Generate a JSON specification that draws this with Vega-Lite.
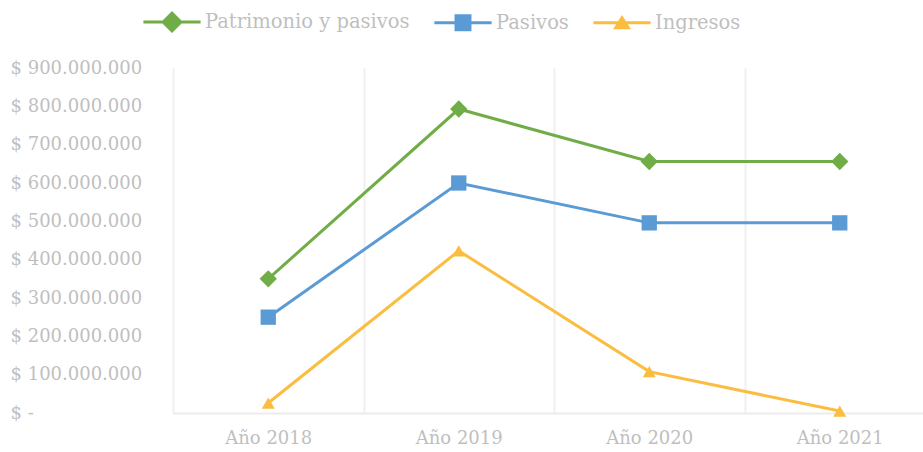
{
  "$schema": "https://vega.github.io/schema/vega-lite/v6.json",
  "width": 750,
  "height": 345,
  "autosize": "none",
  "padding": {"left": 173, "top": 68, "right": 0, "bottom": 39},
  "background": "white",
  "data": {
    "values": [
      {"serie": "Patrimonio y pasivos", "anio": "Año 2018", "valor": 350000000},
      {"serie": "Patrimonio y pasivos", "anio": "Año 2019", "valor": 793000000},
      {"serie": "Patrimonio y pasivos", "anio": "Año 2020", "valor": 656000000},
      {"serie": "Patrimonio y pasivos", "anio": "Año 2021", "valor": 656000000},
      {"serie": "Pasivos", "anio": "Año 2018", "valor": 250000000},
      {"serie": "Pasivos", "anio": "Año 2019", "valor": 600000000},
      {"serie": "Pasivos", "anio": "Año 2020", "valor": 496000000},
      {"serie": "Pasivos", "anio": "Año 2021", "valor": 496000000},
      {"serie": "Ingresos", "anio": "Año 2018", "valor": 26000000},
      {"serie": "Ingresos", "anio": "Año 2019", "valor": 423000000},
      {"serie": "Ingresos", "anio": "Año 2020", "valor": 108000000},
      {"serie": "Ingresos", "anio": "Año 2021", "valor": 5000000}
    ]
  },
  "config": {
    "font": "DejaVu Serif",
    "view": {"stroke": null},
    "axis": {
      "labelFont": "DejaVu Serif",
      "labelFontSize": 18,
      "labelColor": "#bfbfbf",
      "ticks": false,
      "title": null
    },
    "legend": {
      "labelFont": "DejaVu Serif",
      "labelFontSize": 19.5,
      "labelColor": "#bfbfbf",
      "labelLimit": 400
    }
  },
  "encoding": {
    "x": {
      "field": "anio",
      "type": "nominal",
      "sort": ["Año 2018", "Año 2019", "Año 2020", "Año 2021"],
      "scale": {"range": [0, 762], "paddingInner": 0, "paddingOuter": 0},
      "axis": {
        "labelAngle": 0,
        "tickBand": "extent",
        "grid": true,
        "gridColor": "#f0f0f0",
        "gridWidth": 2,
        "domainColor": "#ececec",
        "domainWidth": 2,
        "labelPadding": 16
      }
    },
    "y": {
      "field": "valor",
      "type": "quantitative",
      "scale": {"domain": [0, 900000000], "nice": false},
      "axis": {
        "values": [0, 100000000, 200000000, 300000000, 400000000, 500000000, 600000000, 700000000, 800000000, 900000000],
        "domain": false,
        "grid": false,
        "labelAlign": "left",
        "labelPadding": 163,
        "labelExpr": "datum.value == 0 ? '$ -' : '$ ' + replace(format(datum.value, ',.0f'), regexp(',', 'g'), '.')"
      }
    }
  },
  "layer": [
    {
      "mark": {"type": "line", "strokeWidth": 3},
      "encoding": {
        "color": {
          "field": "serie",
          "type": "nominal",
          "scale": {
            "domain": ["Patrimonio y pasivos", "Pasivos", "Ingresos"],
            "range": ["#70ad47", "#5b9bd5", "#fbbd40"]
          },
          "legend": null
        }
      }
    },
    {
      "mark": {"type": "point", "filled": true, "opacity": 1},
      "encoding": {
        "color": {
          "field": "serie",
          "type": "nominal",
          "scale": {
            "domain": ["Patrimonio y pasivos", "Pasivos", "Ingresos"],
            "range": ["#70ad47", "#5b9bd5", "#fbbd40"]
          },
          "legend": null
        },
        "shape": {
          "field": "serie",
          "type": "nominal",
          "scale": {
            "domain": ["Patrimonio y pasivos", "Pasivos", "Ingresos"],
            "range": ["diamond", "square", "triangle-up"]
          },
          "legend": null
        },
        "size": {
          "field": "serie",
          "type": "nominal",
          "scale": {
            "domain": ["Patrimonio y pasivos", "Pasivos", "Ingresos"],
            "range": [300, 169, 196]
          },
          "legend": null
        }
      }
    },
    {
      "transform": [{"filter": "datum.valor < 0"}],
      "mark": {"type": "point", "filled": true, "opacity": 1},
      "encoding": {
        "color": {
          "field": "serie",
          "type": "nominal",
          "scale": {
            "domain": ["Patrimonio y pasivos", "Pasivos", "Ingresos"],
            "range": ["#70ad47", "#5b9bd5", "#fbbd40"]
          },
          "legend": {
            "title": null,
            "orient": "none",
            "direction": "horizontal",
            "legendX": -12,
            "legendY": -57,
            "padding": 0,
            "symbolSize": 484,
            "symbolStrokeWidth": 0,
            "labelOffset": 22,
            "columnPadding": 24,
            "labelLimit": 400
          }
        },
        "shape": {
          "field": "serie",
          "type": "nominal",
          "scale": {
            "domain": ["Patrimonio y pasivos", "Pasivos", "Ingresos"],
            "range": [
              "M-2.6,-0.14H2.6V0.14H-2.6Z M-1,0L0,-1L1,0L0,1Z",
              "M-2.6,-0.14H2.6V0.14H-2.6Z M-0.77,-0.77H0.77V0.77H-0.77Z",
              "M-2.6,-0.14H2.6V0.14H-2.6Z M0,-0.7L0.82,0.6H-0.82Z"
            ]
          },
          "legend": null
        }
      }
    }
  ],
  "resolve": {"scale": {"shape": "independent", "color": "independent", "size": "independent"}}
}
